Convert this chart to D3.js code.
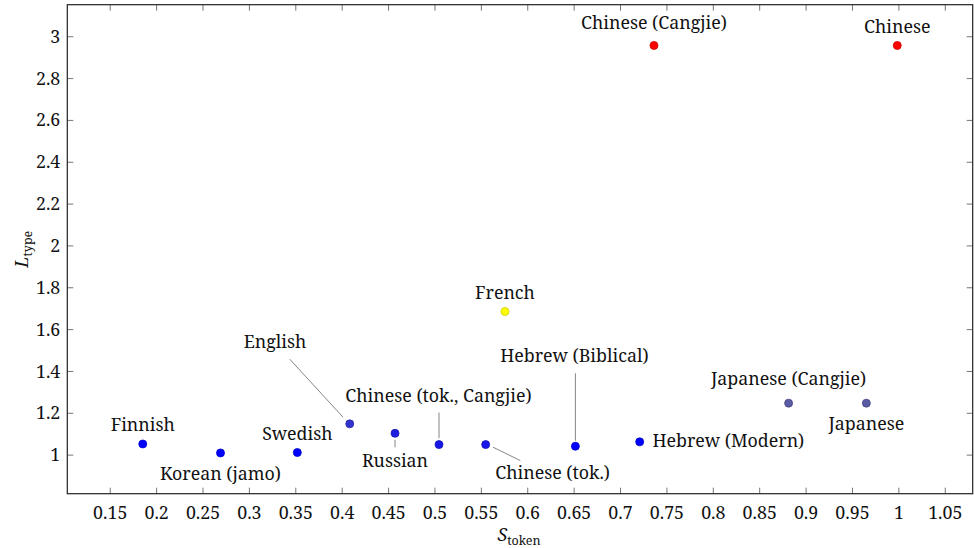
<!DOCTYPE html>
<html>
<head>
<meta charset="utf-8">
<script src="https://cdn.jsdelivr.net/npm/d3@7"></script>
<style>
  html, body { margin: 0; padding: 0; background: #fff; }
</style>
</head>
<body>
<svg id="chart" width="974" height="548"></svg>
<script>
// Languages, token-level S and type-level L, plus the colour-map meta value
const languages = ["Finnish", "Korean (jamo)", "Swedish", "English", "Russian",
  "Chinese (tok., Cangjie)", "Chinese (tok.)", "French", "Hebrew (Biblical)",
  "Hebrew (Modern)", "Japanese (Cangjie)", "Japanese", "Chinese (Cangjie)", "Chinese"];
const sToken = [0.1856, 0.2694, 0.3522, 0.4087, 0.4575, 0.5049, 0.5552, 0.5760,
  0.6519, 0.7212, 0.8817, 0.9655, 0.7366, 0.9988];
const lType = [1.051, 1.008, 1.010, 1.147, 1.102, 1.048, 1.048, 1.684,
  1.040, 1.061, 1.246, 1.246, 2.956, 2.956];
const meta = [0.0, 0.0, 0.0, 0.065, 0.04, 0.03, 0.03, 0.333,
  0.0, 0.0, 0.117, 0.117, 1.0, 1.0];

const xTicks = [0.15, 0.2, 0.25, 0.3, 0.35, 0.4, 0.45, 0.5, 0.55, 0.6, 0.65,
  0.7, 0.75, 0.8, 0.85, 0.9, 0.95, 1, 1.05];
const yTicks = [1, 1.2, 1.4, 1.6, 1.8, 2, 2.2, 2.4, 2.6, 2.8, 3];

// Label placement: text offset from the point (middle anchor, baseline),
// optional leader line given as [x1, y1, x2, y2] offsets from the point.
const placement = {
  "Finnish":                 { dx: 0,     dy: -12.5 },
  "Korean (jamo)":           { dx: 0,     dy: 26.8 },
  "Swedish":                 { dx: 0,     dy: -12.7 },
  "English":                 { dx: -74.7, dy: -75.7, line: [-6.7, -6.7, -60, -64.7] },
  "Russian":                 { dx: 0,     dy: 33.4,  line: [0, 6.7, 0, 14] },
  "Chinese (tok., Cangjie)": { dx: -0.5,  dy: -43,   line: [0, -6.4, 0, -32] },
  "Chinese (tok.)":          { dx: 67,    dy: 34.3,  line: [7.3, 2.6, 34.7, 16] },
  "French":                  { dx: 0,     dy: -13 },
  "Hebrew (Biblical)":       { dx: -1,    dy: -84.6, line: [0, -5.6, 0, -73] },
  "Hebrew (Modern)":         { dx: 12.7,  dy: 5.6, anchor: "start" },
  "Japanese (Cangjie)":      { dx: 0,     dy: -18 },
  "Japanese":                { dx: 0,     dy: 26.7 },
  "Chinese (Cangjie)":       { dx: 0,     dy: -16.5 },
  "Chinese":                 { dx: 0,     dy: -12 }
};

const FONT = '"Noto Serif", "Liberation Serif", serif';
const FS = 17.8;

const W = 974, H = 548;
const margin = { left: 67.3, right: 1.3, top: 4.7, bottom: 54.3 };
const iw = W - margin.left - margin.right;
const ih = H - margin.top - margin.bottom;

// Axis limits: data range enlarged by 10% on each side
function enlarged(vals) {
  const [lo, hi] = d3.extent(vals);
  const pad = 0.1 * (hi - lo);
  return [lo - pad, hi + pad];
}

const x = d3.scaleLinear().domain(enlarged(sToken)).range([0, iw]);
const y = d3.scaleLinear().domain(enlarged(lType)).range([ih, 0]);

// Colour map: blue -> yellow -> orange -> red
const colour = d3.scaleLinear()
  .domain([0, 1 / 3, 2 / 3, 1])
  .range(["#0000ff", "#ffff00", "#ff8000", "#ff0000"])
  .interpolate(d3.interpolateRgb);

const svg = d3.select("#chart");
const g = svg.append("g").attr("transform", `translate(${margin.left},${margin.top})`);

const fmt = v => d3.format("~g")(v);
const tickLen = 6;

// Bottom and top axes (ticks pointing inwards)
const xBottom = g.append("g").attr("transform", `translate(0,${ih})`)
  .call(d3.axisBottom(x).tickValues(xTicks).tickFormat(fmt).tickSizeInner(-tickLen).tickSizeOuter(0).tickPadding(13));
const xTop = g.append("g")
  .call(d3.axisTop(x).tickValues(xTicks).tickFormat("").tickSizeInner(-tickLen).tickSizeOuter(0));
// Left and right axes
const yLeft = g.append("g")
  .call(d3.axisLeft(y).tickValues(yTicks).tickFormat(fmt).tickSizeInner(-tickLen).tickSizeOuter(0).tickPadding(7));
const yRight = g.append("g").attr("transform", `translate(${iw},0)`)
  .call(d3.axisRight(y).tickValues(yTicks).tickFormat("").tickSizeInner(-tickLen).tickSizeOuter(0));

[xBottom, xTop, yLeft, yRight].forEach(ax => {
  ax.select(".domain").remove();
  ax.selectAll(".tick line").attr("stroke", "#666").attr("stroke-width", 0.9);
  ax.selectAll(".tick text")
    .style("font-family", FONT).style("font-size", FS + "px").attr("fill", "#111");
});
xBottom.selectAll(".tick text").attr("dy", "0.71em");
yLeft.selectAll(".tick text").attr("dy", "0.34em");

// Frame
g.append("rect").attr("x", 0).attr("y", 0).attr("width", iw).attr("height", ih)
  .attr("fill", "none").attr("stroke", "#222").attr("stroke-width", 1.2);

const points = languages.map((name, i) => ({ name, s: sToken[i], l: lType[i], m: meta[i] }));

// Leader lines
g.append("g").selectAll("line")
  .data(points.filter(d => placement[d.name].line))
  .join("line")
  .attr("x1", d => x(d.s) + placement[d.name].line[0])
  .attr("y1", d => y(d.l) + placement[d.name].line[1])
  .attr("x2", d => x(d.s) + placement[d.name].line[2])
  .attr("y2", d => y(d.l) + placement[d.name].line[3])
  .attr("stroke", "#777").attr("stroke-width", 0.9);

// Markers
g.append("g").selectAll("circle")
  .data(points)
  .join("circle")
  .attr("cx", d => x(d.s))
  .attr("cy", d => y(d.l))
  .attr("r", 4)
  .attr("fill", d => colour(d.m))
  .attr("stroke", d => d3.interpolateRgb(colour(d.m), "#000")(0.2))
  .attr("stroke-width", 0.8);

// Point labels
g.append("g").selectAll("text")
  .data(points)
  .join("text")
  .attr("x", d => x(d.s) + placement[d.name].dx)
  .attr("y", d => y(d.l) + placement[d.name].dy)
  .attr("text-anchor", d => placement[d.name].anchor || "middle")
  .attr("fill", "#111")
  .style("font-family", FONT).style("font-size", FS + "px")
  .text(d => d.name);

// Axis titles
const xt = svg.append("text")
  .attr("x", margin.left + iw / 2 - 1)
  .attr("y", 541)
  .attr("text-anchor", "middle")
  .attr("fill", "#111")
  .style("font-family", FONT).style("font-size", FS + "px");
xt.append("tspan").style("font-style", "italic").text("S");
xt.append("tspan").style("font-size", "12.5px").attr("dy", 4).text("token");

const yt = svg.append("text")
  .attr("transform", `translate(28,${margin.top + ih / 2}) rotate(-90)`)
  .attr("text-anchor", "middle")
  .attr("fill", "#111")
  .style("font-family", FONT).style("font-size", FS + "px");
yt.append("tspan").style("font-style", "italic").text("L");
yt.append("tspan").style("font-size", "12.5px").attr("dy", 4).text("type");
</script>
</body>
</html>
